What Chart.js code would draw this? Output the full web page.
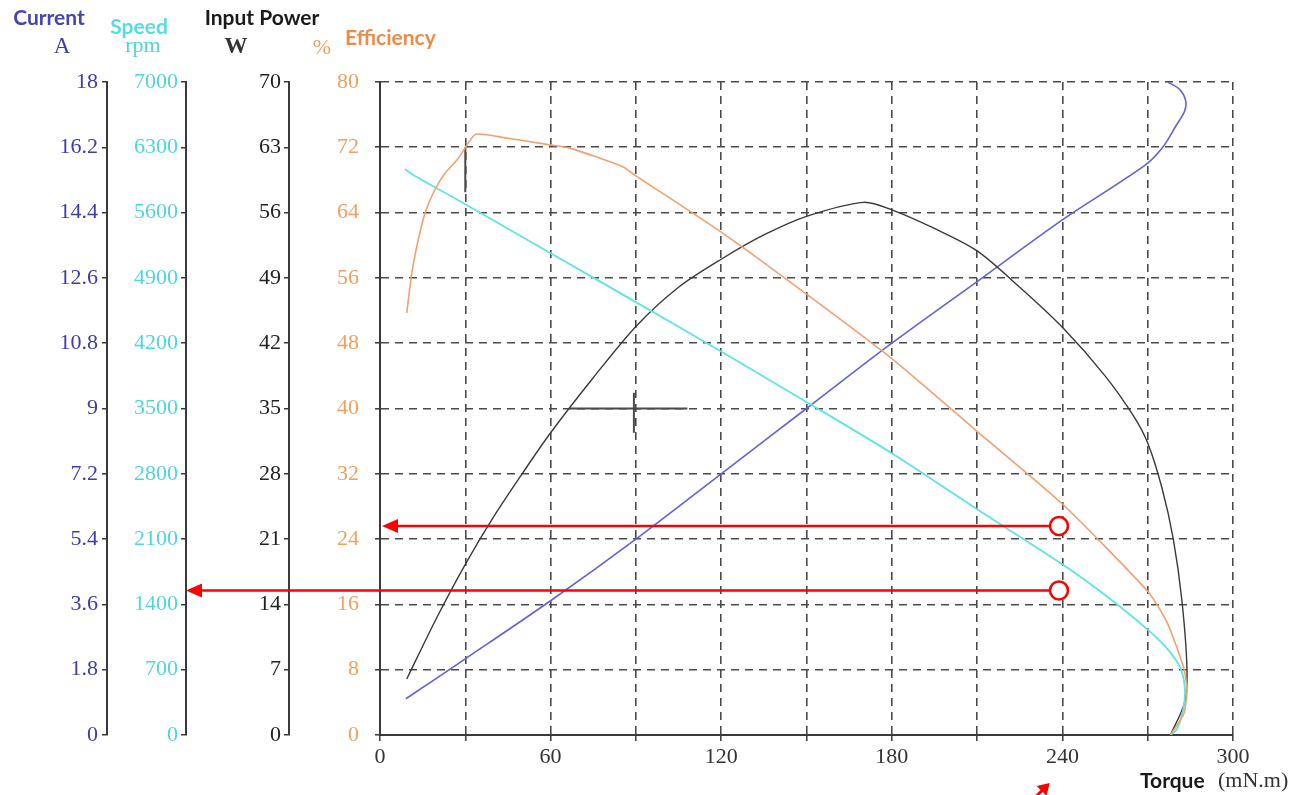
<!DOCTYPE html>
<html>
<head>
<meta charset="utf-8">
<title>Motor performance curves</title>
<script src="https://cdn.jsdelivr.net/npm/chart.js@4.4.1/dist/chart.umd.min.js"></script>
<style>
  html, body { margin: 0; padding: 0; background: #fff; }
  canvas { display: block; }
</style>
</head>
<body>
<canvas id="motorChart" width="1306" height="795"></canvas>
<script>
/* Motor characteristic curves vs torque (mN.m) */

// ---------------- Axis ticks ----------------
const TORQUE_GRID   = [0, 30, 60, 90, 120, 150, 180, 210, 240, 270, 300];
const TORQUE_LABELS = [0, 60, 120, 180, 240, 300];
const CURRENT_TICKS = [0, 1.8, 3.6, 5.4, 7.2, 9, 10.8, 12.6, 14.4, 16.2, 18];
const SPEED_TICKS   = [0, 700, 1400, 2100, 2800, 3500, 4200, 4900, 5600, 6300, 7000];
const POWER_TICKS   = [0, 7, 14, 21, 28, 35, 42, 49, 56, 63, 70];
const EFF_TICKS     = [0, 8, 16, 24, 32, 40, 48, 56, 64, 72, 80];

// ---------------- Series ----------------
const CURRENT_T = [9.1, 30, 60, 90, 120, 150, 180, 210, 240, 269, 275.3, 280, 283, 283.3, 281.2, 277.1];
const CURRENT_A = [1.0, 2.1, 3.7, 5.4, 7.2, 9.0, 10.8, 12.5, 14.2, 15.7, 16.2, 16.8, 17.2, 17.5, 17.8, 18.0];

const SPEED_T   = [8.8, 11.7, 30, 60, 90, 120, 150, 180, 210, 240, 255, 270, 277, 281.5, 283, 282.7, 280.3, 278];
const SPEED_RPM = [6067, 6004, 5690, 5165, 4640, 4110, 3570, 3020, 2420, 1830, 1500, 1130, 920, 717, 520, 306, 62, 0];

const POWER_T = [9.4, 20, 30, 40, 50, 60, 75, 90, 105, 120, 135, 150, 170, 180, 195, 210, 225, 240,
                 255, 265, 270, 275, 279, 282, 283.8, 283, 278];
const POWER_W = [6.0, 12.6, 18.3, 23.4, 28.0, 32.4, 38.3, 43.8, 48.0, 51.0, 53.6, 55.6, 57.1, 56.3, 54.3, 51.9, 48.0, 43.7,
                 38.5, 34.2, 31.3, 26.5, 21.0, 14.5, 7.2, 3.5, 0];

const EFF_T   = [9.4, 11.1, 12.9, 15.8, 19.3, 22.8, 27, 29.9, 33.7, 45, 59.8, 66.8, 85.5, 89.6, 120, 150, 180,
                 210, 240, 270, 276.8, 282.7, 283.8, 282.7, 278];
const EFF_PCT = [51.7, 56.4, 59.8, 63.9, 66.8, 68.8, 70.4, 71.9, 73.6, 73.1, 72.3, 71.9, 69.6, 68.6, 61.6, 54.0, 46.1,
                 37.2, 28.3, 17.6, 13.8, 8.2, 5.4, 2.6, 0];

// stray marks on the original sheet (input power / efficiency units)
const MARK_H_T = [66.8, 108.1];  const MARK_H_W = [35, 35];
const MARK_V_T = [89.3, 89.3];   const MARK_V_W = [36.7, 32.4];
const MARK_30_T = [30, 30];      const MARK_30_PCT = [72, 66.5];

// red reading arrows: start torque, efficiency-scale level, target axis
const ARROW_T     = [238.8, 238.8];
const ARROW_LEVEL = [25.6, 17.7];
const ARROW_TO    = ['eff', 'speed'];

// ---------------- Style ----------------
const SERIF = "'Liberation Serif', 'DejaVu Serif', serif";
const SANS  = "Lato, 'Open Sans', sans-serif";
const AXIS  = '#3a3a3a';
const GRID  = '#4a4a4a';
const DASH  = [8, 6];
const C = {
  current: '#3c3cb0', currentLine: '#6262d8',
  speed: '#4fd6dc',   speedLine: '#5fe3e6',
  power: '#222222',   powerLine: '#3a3a3a',
  eff: '#f0a060',     effLine: '#f2a070', effTitle: '#f08a45',
  red: '#ff0000',
};

const zip = (xs, ys) => xs.map((x, i) => ({ x, y: ys[i] }));

function sideAxis(ticks, color, weight, width, pad, gridOn) {
  return {
    type: 'linear',
    position: 'left',
    weight,
    min: ticks[0],
    max: ticks[ticks.length - 1],
    afterBuildTicks: s => { s.ticks = ticks.map(v => ({ value: v })); },
    afterFit: s => { s.width = width; },
    ticks: { color, padding: pad, font: { family: SERIF, size: 22 }, callback: v => String(v) },
    grid: {
      drawOnChartArea: !!gridOn, tickLength: 5,
      color: gridOn ? GRID : AXIS, lineWidth: gridOn ? 1.6 : 1.5,
      tickColor: AXIS, tickWidth: 1.5,
    },
    border: { display: true, color: AXIS, width: 2, dash: gridOn ? DASH : [] },
  };
}

function line(label, data, axis, color, width, tension) {
  return {
    label, data, yAxisID: axis,
    borderColor: color, borderWidth: width,
    pointRadius: 0, tension, fill: false,
  };
}

// ---------------- Titles + arrows ----------------
const overlay = {
  id: 'overlay',
  afterDraw(chart) {
    const ctx = chart.ctx;
    const s = chart.scales;
    const area = chart.chartArea;
    const text = (t, x, y, font, color, align) => {
      ctx.font = font; ctx.fillStyle = color;
      ctx.textAlign = align || 'center'; ctx.textBaseline = 'middle';
      ctx.fillText(t, x, y);
    };
    ctx.save();
    const rc = s.current.right, rs = s.speed.right, rp = s.power.right, re = s.eff.right;
    text('Current', rc - 58, 18, `bold 21px ${SANS}`, '#4646b0');
    text('A', rc - 45, 47, `23px ${SERIF}`, C.current);
    text('Speed', rs - 47, 27, `bold 21px ${SANS}`, '#55dde2');
    text('rpm', rs - 43, 46, `22px ${SERIF}`, C.speed);
    text('Input Power', rp - 27, 18, `bold 21px ${SANS}`, '#1a1a1a');
    text('W', rp - 53, 47, `bold 23px ${SERIF}`, '#333');
    text('%', re - 58, 48, `22px ${SERIF}`, C.eff);
    text('Efficiency', re - 35, 38, `bold 21px ${SANS}`, C.effTitle, 'left');
    const xr = s.x.right;
    text('Torque', xr - 93, 781, `bold 21px ${SANS}`, '#1a1a1a', 'left');
    text('(mN.m)', xr - 15, 781, `22px ${SERIF}`, '#333', 'left');

    // reading arrows
    ctx.strokeStyle = C.red; ctx.fillStyle = C.red; ctx.lineWidth = 2.6;
    ARROW_T.forEach((t, i) => {
      const x1 = s.x.getPixelForValue(t);
      const y = s.eff.getPixelForValue(ARROW_LEVEL[i]);
      const tip = ARROW_TO[i] === 'eff' ? s.eff.right + 2 : s.speed.right;
      ctx.beginPath(); ctx.moveTo(x1 - 9, y); ctx.lineTo(tip + 14, y); ctx.stroke();
      ctx.beginPath(); ctx.moveTo(tip, y); ctx.lineTo(tip + 16, y - 7); ctx.lineTo(tip + 16, y + 7); ctx.closePath(); ctx.fill();
      ctx.beginPath(); ctx.arc(x1, y, 9, 0, Math.PI * 2);
      ctx.fillStyle = '#fff'; ctx.fill(); ctx.stroke(); ctx.fillStyle = C.red;
    });
    // small arrow under the 240 label
    const bx = s.x.getPixelForValue(235.5), by = area.bottom + 48;
    ctx.lineWidth = 3;
    ctx.beginPath(); ctx.moveTo(bx - 6, by + 6); ctx.lineTo(bx - 20, by + 20); ctx.stroke();
    ctx.beginPath(); ctx.moveTo(bx, by); ctx.lineTo(bx - 13, by + 3); ctx.lineTo(bx - 3, by + 13); ctx.closePath(); ctx.fill();
    ctx.restore();
  },
};

// ---------------- Chart ----------------
new Chart(document.getElementById('motorChart'), {
  type: 'line',
  data: {
    datasets: [
      line('Efficiency', zip(EFF_T, EFF_PCT), 'eff', C.effLine, 1.6, 0.2),
      line('Speed', zip(SPEED_T, SPEED_RPM), 'speed', C.speedLine, 1.8, 0.3),
      line('Input Power', zip(POWER_T, POWER_W), 'power', C.powerLine, 1.4, 0.3),
      line('Current', zip(CURRENT_T, CURRENT_A), 'current', C.currentLine, 1.6, 0.3),
      line('mark-h', zip(MARK_H_T, MARK_H_W), 'power', '#4a4a4a', 2, 0),
      line('mark-v', zip(MARK_V_T, MARK_V_W), 'power', '#4a4a4a', 2, 0),
      line('mark-30', zip(MARK_30_T, MARK_30_PCT), 'eff', '#4a4a4a', 2, 0),
    ],
  },
  options: {
    responsive: false,
    animation: false,
    layout: { padding: { top: 82, right: 73, left: 0, bottom: 0 } },
    plugins: { legend: { display: false }, tooltip: { enabled: false } },
    scales: {
      x: {
        type: 'linear',
        min: 0,
        max: 300,
        afterBuildTicks: s => { s.ticks = TORQUE_GRID.map(v => ({ value: v })); },
        afterFit: s => { s.height = 60; },
        ticks: {
          autoSkip: false, maxRotation: 0, padding: 3, color: '#333',
          font: { family: SERIF, size: 22 },
          callback: v => TORQUE_LABELS.includes(v) ? String(v) : '',
        },
        grid: { color: GRID, lineWidth: 1.6, tickLength: 6, tickColor: AXIS, tickWidth: 1.5 },
        border: { display: true, color: AXIS, width: 2, dash: DASH },
      },
      eff: sideAxis(EFF_TICKS, C.eff, 0, 91, 16, true),
      power: sideAxis(POWER_TICKS, C.power, 1, 103, 3),
      speed: sideAxis(SPEED_TICKS, C.speed, 2, 79, 3),
      current: sideAxis(CURRENT_TICKS, C.current, 3, 107, 4),
    },
  },
  plugins: [overlay],
});
</script>
</body>
</html>
